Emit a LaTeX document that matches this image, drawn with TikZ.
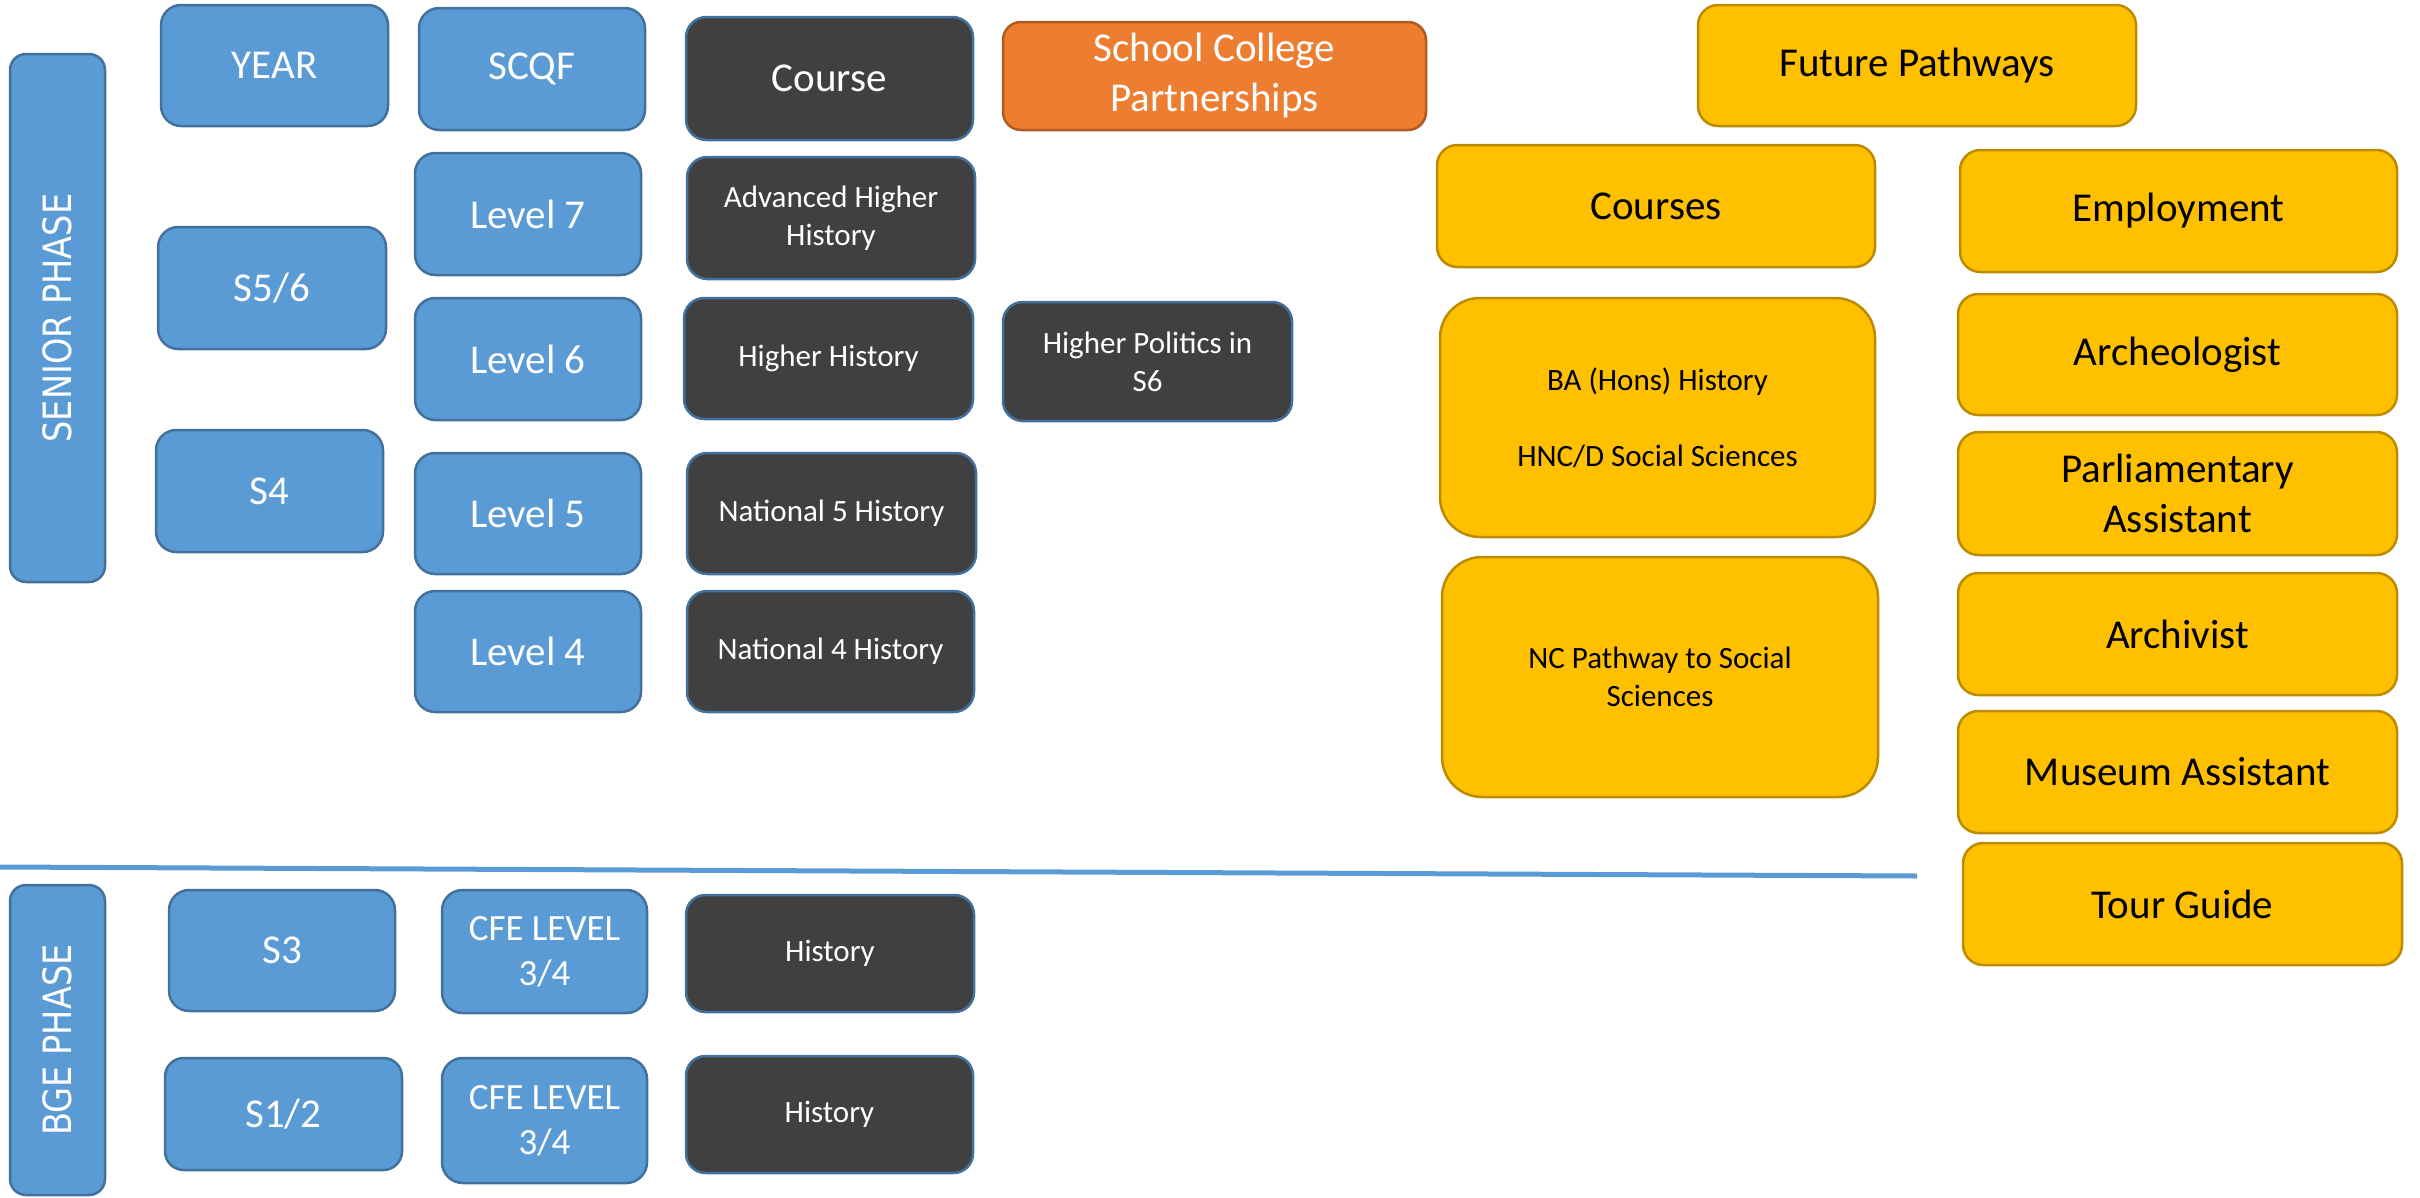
\documentclass[tikz,border=0pt]{standalone}
\usepackage{fontspec}
\setmainfont{Carlito}
\newfontfamily\gothicfont{DejaVu Sans}
\definecolor{bfill}{HTML}{5B9BD5}
\definecolor{bline}{HTML}{41719C}
\definecolor{dfill}{HTML}{404040}
\definecolor{ofill}{HTML}{ED7D31}
\definecolor{oline}{HTML}{AE5A21}
\definecolor{yfill}{HTML}{FFC000}
\definecolor{yline}{HTML}{BC8C00}
\newcommand\bigtxt{\fontsize{41}{50}\selectfont}
\newcommand\smalltxt{\fontsize{31}{38}\selectfont}
\newcommand\cfetxt{\fontsize{37}{45}\selectfont}
\newcommand\phasetxt[1]{\scalebox{0.86}[1]{#1}}
\newcommand\bx[7]{%
  \pgfmathsetmacro\mybw{#5-#3}\pgfmathsetmacro\mybh{#6-#4}%
  \pgfmathsetmacro\mybcx{(#3+#5)/2}\pgfmathsetmacro\mybcy{(#4+#6)/2}%
  \pgfmathsetmacro\mybr{min(\mybw,\mybh)/6}%
  \node[#1, minimum width=\mybw pt, minimum height=\mybh pt, rounded corners=\mybr pt] (#2) at (\mybcx,\mybcy) {#7};}
\begin{document}
\begin{tikzpicture}[x=1pt,y=-1pt,
  basebox/.style={draw, line width=2.5pt, inner sep=0pt, align=center},
  bluebox/.style={basebox, fill=bfill, draw=bline, text=white, font=\bigtxt},
  darkbox/.style={basebox, fill=dfill, draw=bline, text=white, font=\smalltxt},
  orangebox/.style={basebox, fill=ofill, draw=oline, text=white, font=\bigtxt},
  yellowbox/.style={basebox, fill=yfill, draw=yline, text=black, font=\bigtxt},
  phasebar/.style={basebox, fill=bfill, draw=bline, text=white, rotate=90, font=\gothicfont\fontsize{39}{46}\selectfont},
  sepline/.style={draw=bfill, line width=5pt}]
\useasboundingbox (0,0) rectangle (2420,1197);
% phase bars
\node[phasebar, minimum width=528pt, minimum height=95pt, rounded corners=16pt] (senior) at (57.5,318) {\phasetxt{SENIOR PHASE}};
\node[phasebar, minimum width=310pt, minimum height=95pt, rounded corners=16pt] (bge) at (57.5,1040) {\phasetxt{BGE PHASE}};
% header row
\bx{bluebox}{year}{161}{5}{388}{126}{YEAR}
\bx{bluebox}{scqf}{419}{8}{645}{130}{SCQF}
\bx{darkbox, font=\bigtxt}{course}{686}{17}{973}{140}{Course}
\bx{orangebox}{scp}{1003}{22}{1426}{130}{School College\\Partnerships}
\bx{yellowbox}{future}{1698}{5}{2136}{126}{Future Pathways}
% senior phase
\bx{bluebox}{l7}{415}{153}{641}{275}{Level 7}
\bx{darkbox}{ahh}{687}{157}{975}{279}{Advanced Higher\\History}
\bx{bluebox}{s56}{158}{227}{386}{349}{S5/6}
\bx{bluebox}{l6}{415}{298}{641}{420}{Level 6}
\bx{darkbox}{hh}{684}{298}{973}{419}{Higher History}
\bx{darkbox}{hp}{1003}{302}{1292}{421}{Higher Politics in\\S6}
\bx{bluebox}{s4}{156}{430}{383}{552}{S4}
\bx{bluebox}{l5}{415}{453}{641}{574}{Level 5}
\bx{darkbox}{n5}{687}{453}{976}{574}{National 5 History}
\bx{bluebox}{l4}{415}{591}{641}{712}{Level 4}
\bx{darkbox}{n4}{687}{591}{974}{712}{National 4 History}
% future pathways
\bx{yellowbox}{courses}{1437}{145}{1875}{267}{Courses}
\bx{yellowbox}{employ}{1960}{150}{2397}{272}{Employment}
\bx{yellowbox, font=\smalltxt}{ba}{1440}{298}{1875}{537}{BA (Hons) History\\[38pt]HNC/D Social Sciences}
\bx{yellowbox}{arch}{1958}{294}{2397}{415}{Archeologist}
\bx{yellowbox}{parl}{1958}{432}{2397}{555}{Parliamentary\\Assistant}
\bx{yellowbox, font=\smalltxt}{nc}{1442}{557}{1878}{797}{NC Pathway to Social\\Sciences}
\bx{yellowbox}{archiv}{1958}{573}{2397}{695}{Archivist}
\bx{yellowbox}{museum}{1958}{711}{2397}{833}{Museum Assistant}
\bx{yellowbox}{tour}{1963}{843}{2402}{965}{Tour Guide}
% separator
\coordinate (la) at (0,867);
\coordinate (lb) at (1917,876);
\draw[sepline] (la) -- (lb);
% BGE phase
\bx{bluebox}{s3}{169}{890}{395}{1011}{S3}
\bx{bluebox, font=\cfetxt}{cfea}{442}{890}{647}{1013}{CFE LEVEL\\3/4}
\bx{darkbox}{hista}{686}{895}{974}{1012}{History}
\bx{bluebox}{s12}{165}{1058}{402}{1170}{S1/2}
\bx{bluebox, font=\cfetxt}{cfeb}{442}{1058}{647}{1183}{CFE LEVEL\\3/4}
\bx{darkbox}{histb}{686}{1056}{973}{1173}{History}
\end{tikzpicture}
\end{document}
